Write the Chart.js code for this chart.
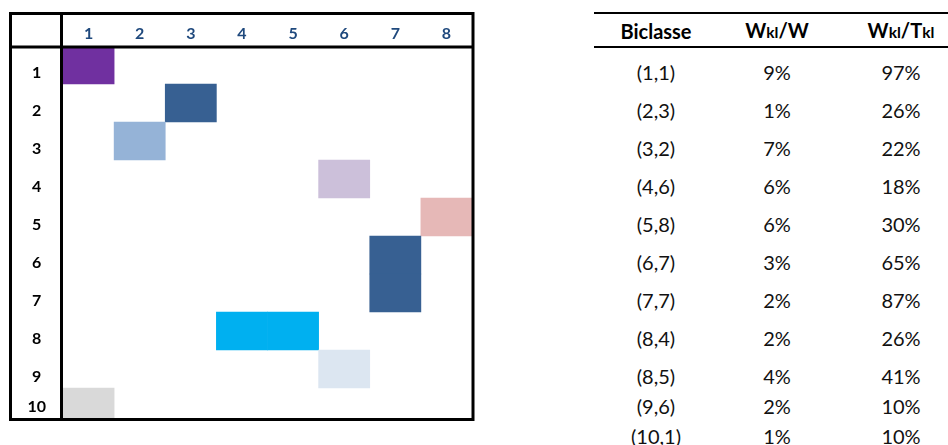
<!DOCTYPE html>
<html>
<head>
<meta charset="utf-8">
<script src="https://cdn.jsdelivr.net/npm/chart.js@4.4.1/dist/chart.umd.min.js"></script>
<style>
  html, body { margin: 0; padding: 0; background: #fff; width: 948px; height: 445px; overflow: hidden; }
  #wrap { position: relative; width: 948px; height: 445px; overflow: hidden; }
  #matrixChart { position: absolute; left: 0; top: 0; }
  #biTable {
    position: absolute; left: 594px; top: 12px;
    border-collapse: separate; border-spacing: 0;
    font-family: Lato, "Open Sans", sans-serif; font-size: 20px; color: #111;
    table-layout: fixed; width: 370px;
  }
  #biTable th {
    border-top: 2px solid #000; border-bottom: 2px solid #000;
    font-weight: bold; padding: 2px 0 0 0; vertical-align: middle; line-height: 18px;
    text-align: center; color: #000;
  }
  #biTable td { padding: 0 0 3px 0; vertical-align: bottom; line-height: 18px; text-align: center; }
  #biTable tr { height: 38px; }
  #biTable tr.head { height: 36px; }
  #biTable tr.first { height: 36px; }
  #biTable tr.short { height: 30px; }
  #biTable .kl { font-size: 0.78em; }
</style>
</head>
<body>
<div id="wrap">
  <canvas id="matrixChart" width="480" height="445"></canvas>
  <table id="biTable">
    <colgroup><col style="width:124px"><col style="width:118px"><col style="width:130px"></colgroup>
    <tbody id="biBody"></tbody>
  </table>
</div>
<script>
// lignes et colonnes de la matrice réordonnée
const rowLabels = ['1', '2', '3', '4', '5', '6', '7', '8', '9', '10'];
const colLabels = ['1', '2', '3', '4', '5', '6', '7', '8'];

// cases colorées : biclasse (ligne, colonne)
const cellRows = [1, 2, 3, 4, 5, 6, 7, 8, 8, 9, 10];
const cellCols = [1, 3, 2, 6, 8, 7, 7, 4, 5, 6, 1];
const cellColors = ['#7030A0', '#376092', '#95B3D7', '#CCC0DA', '#E6B8B7', '#376092', '#376092',
                    '#00B0F0', '#00B0F0', '#DCE6F1', '#D9D9D9'];

// tableau des biclasses
const biclasseLabels = ['(1,1)', '(2,3)', '(3,2)', '(4,6)', '(5,8)', '(6,7)', '(7,7)', '(8,4)', '(8,5)', '(9,6)', '(10,1)'];
const wklOverW = [9, 1, 7, 6, 6, 3, 2, 2, 4, 2, 1];
const wklOverTkl = [97, 26, 22, 18, 30, 65, 87, 26, 41, 10, 10];

// cadre noir du tableau (bord extérieur + séparateurs d'en-tête)
const tableFrame = {
    id: 'tableFrame',
    afterDraw(chart) {
        const { ctx, chartArea: a } = chart;
        const pad = chart.options.layout.padding;
        const x0 = pad.left + 0.5;
        const y0 = pad.top + 1.5;
        ctx.save();
        ctx.strokeStyle = '#000';
        ctx.lineWidth = 3;
        ctx.strokeRect(x0, y0, a.right + 1 - x0, a.bottom + 1.5 - y0);
        ctx.beginPath();
        ctx.moveTo(x0, a.top + 1);
        ctx.lineTo(a.right + 1, a.top + 1);
        ctx.moveTo(a.left - 1.5, y0);
        ctx.lineTo(a.left - 1.5, a.bottom + 1.5);
        ctx.stroke();
        ctx.restore();
    }
};

const ctx = document.getElementById('matrixChart').getContext('2d');
const matrixChart = new Chart(ctx, {
    type: 'bar',
    data: {
        labels: colLabels,
        datasets: [{
            data: cellRows.map((r, i) => ({ x: colLabels[cellCols[i] - 1], y: [r - 1, r] })),
            backgroundColor: cellColors,
            borderWidth: 0,
            barPercentage: 1,
            categoryPercentage: 1,
            clip: 0
        }]
    },
    options: {
        responsive: false,
        animation: false,
        events: [],
        layout: { padding: { left: 10, top: 12, right: 8, bottom: 27 } },
        plugins: {
            legend: { display: false },
            tooltip: { enabled: false }
        },
        scales: {
            x: {
                type: 'category',
                position: 'top',
                grid: { display: false, drawTicks: false },
                border: { display: false },
                ticks: {
                    color: '#1F497D',
                    font: { family: 'Lato', weight: 'bold', size: 16 },
                    padding: 3,
                    maxRotation: 0,
                    autoSkip: false
                },
                afterFit: (scale) => { scale.height = 34; }
            },
            y: {
                type: 'linear',
                reverse: true,
                min: 0,
                max: 9.79, // la ligne 10 est moins haute que les autres
                grid: { display: false, drawTicks: false },
                border: { display: false },
                afterBuildTicks: (scale) => {
                    // étiquette calée en bas de chaque ligne
                    scale.ticks = rowLabels.map((l, i) => ({ value: Math.min(i + 1, scale.max) }));
                },
                ticks: {
                    color: '#000',
                    font: { family: 'Lato', weight: 'bold', size: 16 },
                    crossAlign: 'center',
                    padding: 17,
                    labelOffset: -11,
                    autoSkip: false,
                    callback: (value, index) => rowLabels[index]
                },
                afterFit: (scale) => { scale.width = 53; }
            }
        }
    },
    plugins: [tableFrame]
});

// tableau de droite
const body = document.getElementById('biBody');
let html = '<tr class="head"><th>Biclasse</th><th>W<span class="kl">kl</span>/W</th>' +
           '<th>W<span class="kl">kl</span>/T<span class="kl">kl</span></th></tr>';
biclasseLabels.forEach((b, i) => {
    const cls = i === 0 ? 'first' : (i >= 9 ? 'short' : '');
    html += `<tr class="${cls}"><td>${b}</td><td>${wklOverW[i]}%</td><td>${wklOverTkl[i]}%</td></tr>`;
});
body.innerHTML = html;
</script>
</body>
</html>
